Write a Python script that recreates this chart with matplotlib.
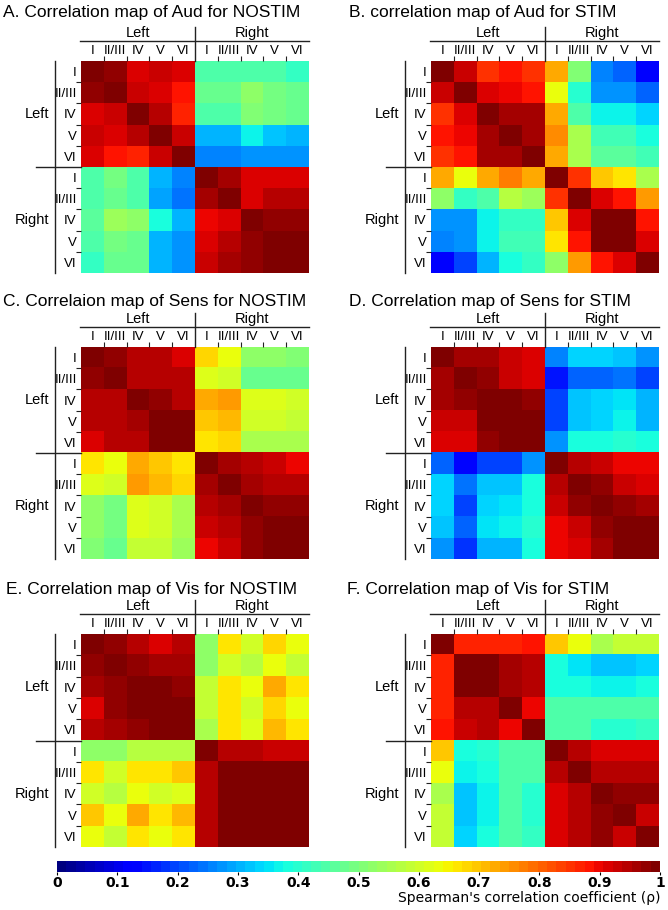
import numpy as np
import matplotlib
matplotlib.use("Agg")
import matplotlib.pyplot as plt
from matplotlib.lines import Line2D

# ---------------- data ----------------
layers = ["I", "II/III", "IV", "V", "VI"]
tick_labels = layers + layers
groups = ["Left", "Right"]
colorbar_ticks = [0, 0.1, 0.2, 0.3, 0.4, 0.5, 0.6, 0.7, 0.8, 0.9, 1]
colorbar_ticklabels = ["0", "0.1", "0.2", "0.3", "0.4", "0.5", "0.6", "0.7", "0.8", "0.9", "1"]

titles = [
    "A. Correlation map of Aud for NOSTIM",
    "B. correlation map of Aud for STIM",
    "C. Correlaion map of Sens for NOSTIM",
    "D. Correlation map of Sens for STIM",
    "E. Correlation map of Vis for NOSTIM",
    "F. Correlation map of Vis for STIM",
]

aud_nostim = [
    [1.00, 0.97, 0.92, 0.93, 0.92, 0.45, 0.45, 0.45, 0.45, 0.42],
    [0.97, 1.00, 0.93, 0.92, 0.89, 0.48, 0.47, 0.53, 0.49, 0.47],
    [0.92, 0.93, 1.00, 0.95, 0.86, 0.45, 0.45, 0.50, 0.49, 0.47],
    [0.93, 0.92, 0.95, 1.00, 0.93, 0.30, 0.30, 0.36, 0.32, 0.30],
    [0.92, 0.88, 0.86, 0.93, 1.00, 0.25, 0.25, 0.28, 0.27, 0.27],
    [0.45, 0.49, 0.45, 0.30, 0.26, 1.00, 0.96, 0.91, 0.92, 0.92],
    [0.45, 0.48, 0.44, 0.29, 0.24, 0.96, 1.00, 0.91, 0.94, 0.94],
    [0.46, 0.54, 0.52, 0.38, 0.31, 0.90, 0.91, 1.00, 0.98, 0.97],
    [0.44, 0.49, 0.48, 0.30, 0.28, 0.92, 0.94, 0.98, 1.00, 0.99],
    [0.42, 0.48, 0.47, 0.30, 0.27, 0.93, 0.96, 0.97, 0.99, 1.00],
]

aud_stim = [
    [1.00, 0.93, 0.85, 0.88, 0.85, 0.73, 0.50, 0.26, 0.23, 0.11],
    [0.93, 1.00, 0.91, 0.90, 0.88, 0.64, 0.40, 0.28, 0.28, 0.22],
    [0.85, 0.91, 1.00, 0.96, 0.96, 0.72, 0.44, 0.37, 0.37, 0.33],
    [0.88, 0.90, 0.96, 1.00, 0.96, 0.76, 0.55, 0.43, 0.43, 0.39],
    [0.85, 0.88, 0.96, 0.96, 1.00, 0.72, 0.55, 0.46, 0.46, 0.43],
    [0.72, 0.64, 0.73, 0.77, 0.73, 1.00, 0.85, 0.69, 0.67, 0.55],
    [0.52, 0.41, 0.45, 0.57, 0.54, 0.85, 1.00, 0.91, 0.89, 0.74],
    [0.28, 0.28, 0.36, 0.42, 0.42, 0.69, 0.92, 1.00, 1.00, 0.89],
    [0.25, 0.28, 0.37, 0.43, 0.43, 0.66, 0.89, 1.00, 1.00, 0.92],
    [0.11, 0.20, 0.31, 0.38, 0.42, 0.52, 0.74, 0.89, 0.92, 1.00],
]

sens_nostim = [
    [1.00, 0.97, 0.94, 0.94, 0.92, 0.68, 0.63, 0.53, 0.53, 0.50],
    [0.97, 1.00, 0.95, 0.95, 0.95, 0.62, 0.60, 0.48, 0.48, 0.47],
    [0.94, 0.95, 1.00, 0.97, 0.95, 0.72, 0.74, 0.62, 0.62, 0.60],
    [0.94, 0.95, 0.96, 1.00, 0.99, 0.70, 0.71, 0.60, 0.60, 0.58],
    [0.92, 0.95, 0.95, 0.99, 1.00, 0.67, 0.68, 0.56, 0.56, 0.55],
    [0.67, 0.63, 0.72, 0.70, 0.67, 1.00, 0.96, 0.94, 0.93, 0.90],
    [0.62, 0.60, 0.74, 0.71, 0.68, 0.96, 1.00, 0.96, 0.95, 0.94],
    [0.52, 0.49, 0.62, 0.60, 0.56, 0.94, 0.96, 1.00, 0.98, 0.97],
    [0.52, 0.49, 0.61, 0.60, 0.56, 0.93, 0.95, 0.98, 1.00, 0.99],
    [0.50, 0.47, 0.59, 0.58, 0.54, 0.90, 0.93, 0.97, 0.99, 1.00],
]

sens_stim = [
    [1.00, 0.96, 0.96, 0.93, 0.92, 0.25, 0.33, 0.33, 0.32, 0.28],
    [0.96, 1.00, 0.97, 0.93, 0.92, 0.15, 0.23, 0.22, 0.24, 0.20],
    [0.96, 0.97, 1.00, 0.99, 0.97, 0.20, 0.32, 0.33, 0.35, 0.30],
    [0.93, 0.93, 0.99, 1.00, 0.99, 0.20, 0.32, 0.34, 0.36, 0.30],
    [0.92, 0.92, 0.97, 0.99, 1.00, 0.28, 0.38, 0.38, 0.40, 0.38],
    [0.23, 0.13, 0.20, 0.20, 0.27, 1.00, 0.95, 0.93, 0.90, 0.90],
    [0.33, 0.24, 0.32, 0.32, 0.38, 0.95, 1.00, 0.97, 0.93, 0.92],
    [0.33, 0.20, 0.33, 0.35, 0.38, 0.93, 0.97, 1.00, 0.97, 0.96],
    [0.32, 0.22, 0.35, 0.36, 0.40, 0.90, 0.93, 0.97, 1.00, 0.99],
    [0.28, 0.18, 0.30, 0.30, 0.38, 0.90, 0.92, 0.96, 0.99, 1.00],
]

vis_nostim = [
    [1.00, 0.97, 0.95, 0.92, 0.94, 0.53, 0.66, 0.60, 0.68, 0.63],
    [0.97, 1.00, 0.97, 0.96, 0.96, 0.52, 0.60, 0.57, 0.63, 0.58],
    [0.96, 0.98, 1.00, 0.99, 0.98, 0.58, 0.67, 0.64, 0.72, 0.66],
    [0.92, 0.97, 0.99, 1.00, 0.99, 0.58, 0.66, 0.60, 0.68, 0.64],
    [0.94, 0.96, 0.98, 0.99, 1.00, 0.56, 0.67, 0.62, 0.71, 0.66],
    [0.53, 0.52, 0.57, 0.57, 0.57, 1.00, 0.95, 0.95, 0.93, 0.93],
    [0.66, 0.60, 0.66, 0.66, 0.69, 0.95, 1.00, 1.00, 1.00, 1.00],
    [0.60, 0.57, 0.63, 0.60, 0.62, 0.95, 1.00, 1.00, 1.00, 1.00],
    [0.69, 0.64, 0.72, 0.67, 0.71, 0.95, 1.00, 1.00, 1.00, 1.00],
    [0.63, 0.58, 0.66, 0.64, 0.66, 0.95, 1.00, 1.00, 1.00, 1.00],
]

vis_stim = [
    [1.00, 0.86, 0.86, 0.86, 0.88, 0.69, 0.63, 0.55, 0.58, 0.58],
    [0.86, 1.00, 1.00, 0.96, 0.94, 0.38, 0.35, 0.32, 0.32, 0.34],
    [0.86, 1.00, 1.00, 0.96, 0.95, 0.39, 0.39, 0.36, 0.36, 0.38],
    [0.86, 0.95, 0.95, 1.00, 0.90, 0.45, 0.45, 0.45, 0.45, 0.44],
    [0.88, 0.93, 0.94, 0.90, 1.00, 0.45, 0.44, 0.40, 0.40, 0.42],
    [0.69, 0.38, 0.40, 0.45, 0.45, 1.00, 0.95, 0.92, 0.92, 0.92],
    [0.63, 0.37, 0.38, 0.45, 0.44, 0.95, 1.00, 0.95, 0.94, 0.95],
    [0.55, 0.32, 0.36, 0.45, 0.40, 0.92, 0.95, 1.00, 0.97, 0.98],
    [0.58, 0.32, 0.36, 0.45, 0.40, 0.92, 0.94, 0.97, 1.00, 0.93],
    [0.58, 0.34, 0.38, 0.44, 0.42, 0.92, 0.95, 0.98, 0.93, 1.00],
]

matrices = [aud_nostim, aud_stim, sens_nostim, sens_stim, vis_nostim, vis_stim]

# ---------------- layout (pixels) ----------------
W, H = 668, 910
FONT = "Liberation Sans"
plt.rcParams["font.family"] = [FONT, "DejaVu Sans"]

fig = plt.figure(figsize=(W / 100, H / 100), dpi=100)

def fx(x):
    return x / W

def fy(y):
    return 1 - y / H

def line(x0, y0, x1, y1, lw=1.0, color="#222222"):
    fig.add_artist(Line2D([fx(x0), fx(x1)], [fy(y0), fy(y1)],
                          transform=fig.transFigure, lw=lw, color=color))

col_spans = [(81, 309), (431, 659)]
row_spans = [(61, 273), (347, 559), (634, 847)]
title_pos = [(3, 17), (349, 17), (3, 306), (349, 306), (6, 594), (347, 594)]

cmap = plt.get_cmap("jet", 64)
im = None
for k, mat in enumerate(matrices):
    r, c = divmod(k, 2)
    x0, x1 = col_spans[c]
    y0, y1 = row_spans[r]
    ax = fig.add_axes([fx(x0), fy(y1), (x1 - x0) / W, (y1 - y0) / H])
    im = ax.imshow(np.array(mat), cmap=cmap, vmin=0, vmax=1,
                   aspect="auto", interpolation="nearest")
    for s in ax.spines.values():
        s.set_visible(False)
    ax.xaxis.tick_top()
    ax.set_xticks(range(10))
    ax.set_xticklabels(tick_labels, fontsize=9.5)
    ax.set_yticks(range(10))
    ax.set_yticklabels(tick_labels, fontsize=9.5)
    bounds = [0.5, 1.5, 2.5, 3.5, 5.5, 6.5, 7.5, 8.5]
    ax.set_xticks(bounds, minor=True)
    ax.set_yticks(bounds, minor=True)
    ax.tick_params(which="major", length=0, pad=3)
    ax.tick_params(which="minor", length=3.5, width=0.8, direction="out",
                   top=True, bottom=False, left=True, right=False, color="#222222")

    xm = (x0 + x1) / 2
    ym = (y0 + y1) / 2
    # column header
    line(x0 - 1, y0 - 20, x1, y0 - 20)
    line(xm, y0 - 34, xm, y0)
    fig.text(fx((x0 + xm) / 2), fy(y0 - 28), groups[0], fontsize=10.5,
             ha="center", va="center")
    fig.text(fx((xm + x1) / 2), fy(y0 - 28), groups[1], fontsize=10.5,
             ha="center", va="center")
    # row header
    line(x0 - 26, y0, x0 - 26, y1)
    line(x0 - 45, ym, x0, ym)
    fig.text(fx(x0 - 32), fy((y0 + ym) / 2), groups[0], fontsize=10.5,
             ha="right", va="center")
    fig.text(fx(x0 - 32), fy((ym + y1) / 2), groups[1], fontsize=10.5,
             ha="right", va="center")
    # title
    tx, ty = title_pos[k]
    fig.text(fx(tx), fy(ty), titles[k], fontsize=12.5, ha="left", va="baseline")

# ---------------- colorbar ----------------
cax = fig.add_axes([fx(57), fy(872), (660 - 57) / W, 11 / H])
cb = fig.colorbar(im, cax=cax, orientation="horizontal")
cb.outline.set_visible(False)
cb.set_ticks(colorbar_ticks)
cb.set_ticklabels(colorbar_ticklabels)
cax.tick_params(length=2, width=0.8, pad=1, direction="out")
for lbl in cax.get_xticklabels():
    lbl.set_fontfamily("DejaVu Sans")
    lbl.set_fontweight("bold")
    lbl.set_fontsize(10)
fig.text(fx(660), fy(898), "Spearman's correlation coefficient (\u03c1)",
         fontsize=10, ha="right", va="center", family=["DejaVu Sans"])

fig.savefig("out.png", dpi=100)
